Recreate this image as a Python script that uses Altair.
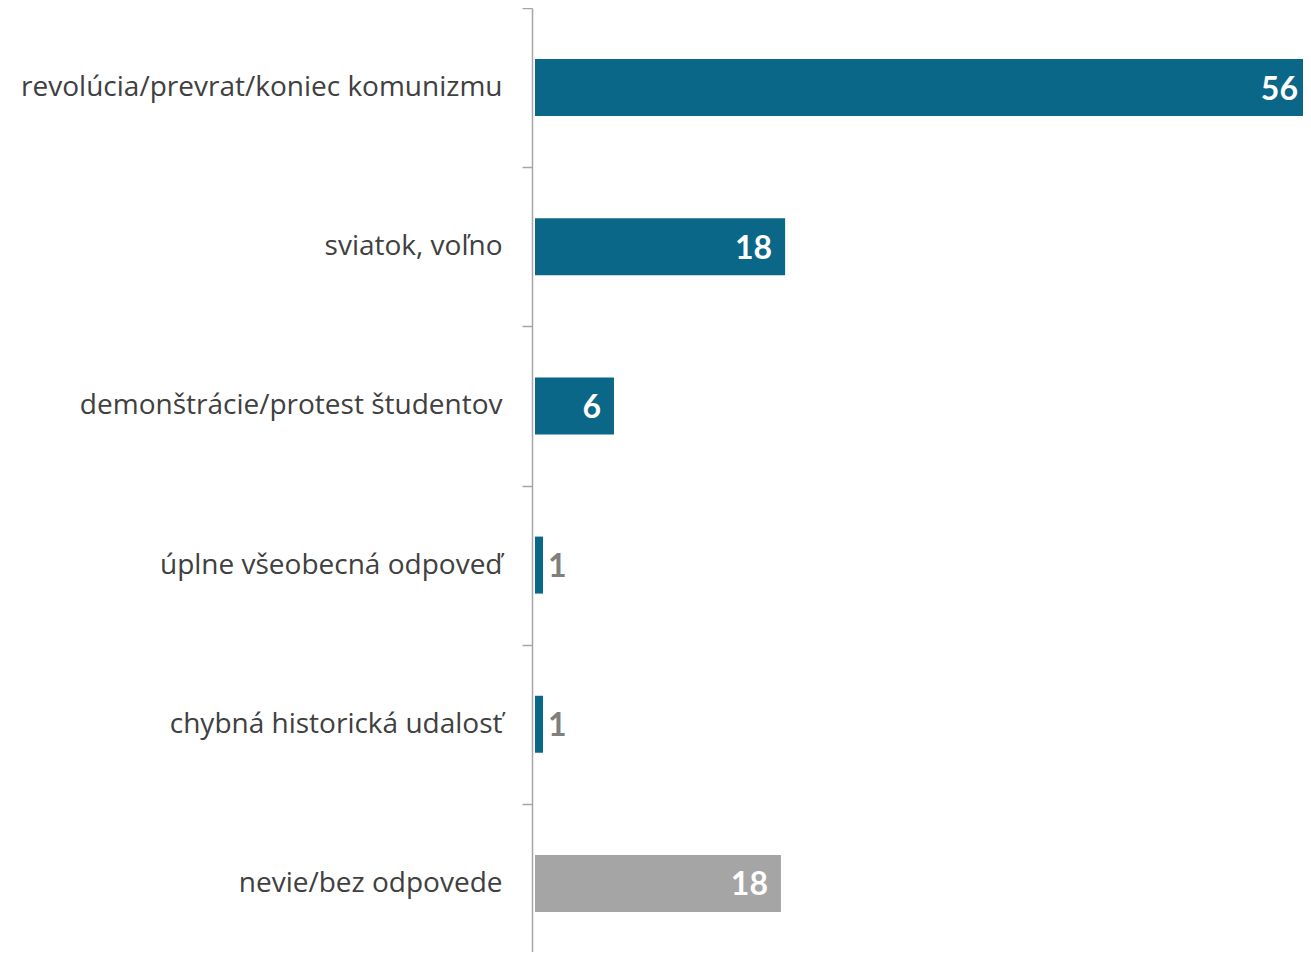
import altair as alt
import pandas as pd

categories = [
    "revolúcia/prevrat/koniec komunizmu",
    "sviatok, voľno",
    "demonštrácie/protest študentov",
    "úplne všeobecná odpoveď",
    "chybná historická udalosť",
    "nevie/bez odpovede",
]
values = [56.0, 18.05, 5.7, 0.58, 0.58, 17.75]
labels = ["56", "18", "6", "1", "1", "18"]
bar_colors = ["#0B6787", "#0B6787", "#0B6787", "#0B6787", "#0B6787", "#A5A5A5"]
inside = [True, True, True, False, False, True]

df = pd.DataFrame({
    "cat": categories,
    "value": values,
    "label": labels,
    "color": bar_colors,
    "inside": inside,
})

LABEL_FONT = "Open Sans"
NUM_FONT = "Lato"

y_enc = alt.Y(
    "cat:N",
    sort=categories,
    title=None,
    scale=alt.Scale(paddingInner=0, paddingOuter=0, range=[0, 955]),
    axis=alt.Axis(
        tickBand="extent",
        tickSize=10,
        tickColor="#A6A6A6",
        tickWidth=1.5,
        domainColor="#A6A6A6",
        domainWidth=1.5,
        labelFont=LABEL_FONT,
        labelFontSize=28,
        labelColor="#404040",
        labelPadding=20,
        labelLimit=600,
    ),
)
x_enc = alt.X(
    "value:Q",
    scale=alt.Scale(domain=[0, 55.64], nice=False, zero=True),
    axis=None,
)

base = alt.Chart(df).encode(y=y_enc, x=x_enc)

bars = base.mark_bar(xOffset=3, height=alt.RelativeBandSize(0.358)).encode(
    color=alt.Color("color:N", scale=None)
)

text_in = base.transform_filter("datum.inside").mark_text(
    align="right", baseline="middle", dx=-10, dy=2, font=NUM_FONT, fontWeight="bold",
    fontSize=32, color="white"
).encode(text="label:N")

text_out = base.transform_filter("!datum.inside").mark_text(
    align="left", baseline="middle", dx=8, dy=2, font=NUM_FONT, fontWeight="bold",
    fontSize=32, color="#7F7F7F"
).encode(text="label:N")

chart = alt.layer(bars, text_in, text_out).properties(
    width=771,
    height=944,
    autosize=alt.AutoSizeParams(type="none"),
    padding={"left": 524, "top": 0, "right": 0, "bottom": 0},
).configure_view(stroke=None)

chart.save("out.html", embed_options={"renderer": "svg", "actions": False})
